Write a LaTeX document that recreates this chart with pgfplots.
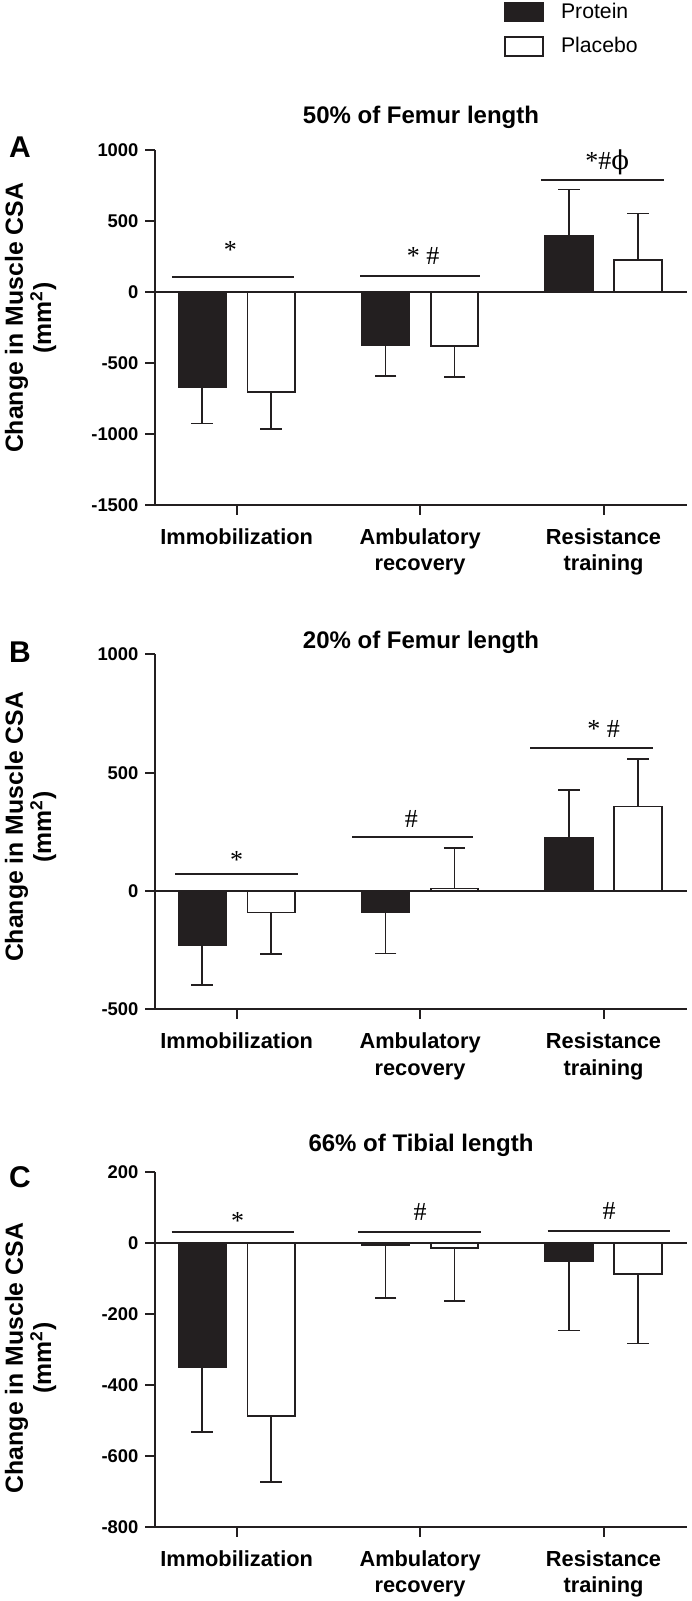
\documentclass[border=0pt]{standalone}
\usepackage{fontspec}
\setmainfont{Liberation Sans}
\newfontfamily\symfont{Liberation Serif}
\newfontfamily\phifont{DejaVu Serif}
\usepackage{pgfplots}
\pgfplotsset{compat=1.18}
\usepackage{pgfplotstable}
\definecolor{barblack}{RGB}{35,31,32}

% Panel A: 50% of femur length
\pgfplotstableread{
x y ep em
-0.188 -667 0 258
0.812 -373 0 219
1.812 397 326 0
}\Aprot
\pgfplotstableread{
x y ep em
0.188 -704 0 261
1.188 -378 0 221
2.188 223 329 0
}\Aplac
% Panel B: 20% of femur length
\pgfplotstableread{
x y ep em
-0.188 -229 0 168
0.812 -91 0 172
1.812 225 201 0
}\Bprot
\pgfplotstableread{
x y ep em
0.188 -91 0 176
1.188 11 172 0
2.188 357 201 0
}\Bplac
% Panel C: 66% of tibial length
\pgfplotstableread{
x y ep em
-0.188 -350 0 182
0.812 -5 0 150
1.812 -52 0 194
}\Cprot
\pgfplotstableread{
x y ep em
0.188 -488 0 185
1.188 -14 0 150
2.188 -87 0 196
}\Cplac

\tikzset{
  symb/.style={font=\symfont\fontsize{13}{15}\selectfont, anchor=base, inner sep=0pt},
  letter/.style={font=\bfseries\fontsize{15}{18}\selectfont},
}
\pgfplotsset{
  panel/.style={
    scale only axis, width=266pt, height=177.5pt,
    xmin=-0.445, xmax=2.455,
    axis x line*=bottom, axis y line*=left,
    axis line style={line width=1pt, color=barblack},
    xtick={0,1,2},
    xticklabels={Immobilization, Ambulatory\\recovery, Resistance\\training},
    xticklabel style={align=center, yshift=-3.5pt, font=\bfseries\fontsize{10.9}{13.3}\selectfont},
    yticklabel style={font=\bfseries\fontsize{9.2}{11}\selectfont},
    tick align=outside, major tick length=4.75pt,
    tick style={line width=1pt, color=barblack},
    ylabel={Change in Muscle CSA\\(mm\textsuperscript{2})},
    ylabel style={align=center, font=\bfseries\fontsize{12.4}{12.5}\selectfont, anchor=center},
    title style={font=\bfseries\fontsize{12}{14}\selectfont, anchor=center},
    clip=false,
  },
  barbase/.style={ybar, bar width=0.259, bar shift=0pt, line width=0.85pt, draw=barblack,
    error bars/y dir=both, error bars/y explicit,
    error bars/error bar style={line width=0.8pt, color=barblack},
    error bars/error mark options={rotate=90, mark size=5.4pt, line width=0.8pt, color=barblack}},
  protein/.style={barbase, fill=barblack,
    legend image code/.code={\draw[fill=barblack,draw=barblack,line width=0.85pt] (0pt,-4.75pt) rectangle (19pt,4.75pt);}},
  placebo/.style={barbase, fill=white,
    legend image code/.code={\draw[fill=white,draw=barblack,line width=0.85pt] (0pt,-4.75pt) rectangle (19pt,4.75pt);}},
  sig/.style={line width=1pt, color=barblack, forget plot},
  zeroline/.style={line width=1pt, color=barblack, forget plot},
}

\begin{document}
\begin{tikzpicture}
\useasboundingbox (0,0) rectangle (345.5pt,-800.5pt);

% ---------- Panel A ----------
\begin{axis}[panel, at={(77.5pt,-75pt)}, anchor=north west,
  ymin=-1500, ymax=1000,
  ytick={-1500,-1000,-500,0,500,1000},
  yticklabels={-1500,-1000,-500,0,500,1000},
  ylabel style={at={(-0.2338,0.527)}},
  title={50\% of Femur length},
  title style={at={(0.5,1.059)}},
  legend style={at={(0.656,1.427)}, anchor=north west, draw=none, fill=none,
    font=\fontsize{10.6}{12}\selectfont, row sep=4pt, column sep=6.5pt, inner sep=0pt,
    cells={anchor=west}},
]
\addplot[protein] table[x=x, y=y, y error plus=ep, y error minus=em] {\Aprot};
\addlegendentry{Protein}
\addplot[placebo] table[x=x, y=y, y error plus=ep, y error minus=em] {\Aplac};
\addlegendentry{Placebo}
\addplot[zeroline] coordinates {(-0.445,0) (2.455,0)};
\addplot[sig] coordinates {(-0.353,103) (0.313,103)};
\addplot[sig] coordinates {(0.675,113) (1.328,113)};
\addplot[sig] coordinates {(1.659,789) (2.328,789)};
\node[symb] at (axis cs:-0.034,235) {*};
\node[symb] at (axis cs:1.017,197) {* \#};
\node[symb] at (axis cs:2.02,864) {*\#{\phifont ϕ}};
\node[letter] at (rel axis cs:-0.2538,1.0085) {A};
\end{axis}

% ---------- Panel B ----------
\begin{axis}[panel, at={(77.5pt,-327.2pt)}, anchor=north west,
  ymin=-500, ymax=1000,
  ytick={-500,0,500,1000},
  yticklabels={-500,0,500,1000},
  ylabel style={at={(-0.2338,0.514)}},
  title={20\% of Femur length},
  title style={at={(0.5,1.001)}},
]
\addplot[protein] table[x=x, y=y, y error plus=ep, y error minus=em] {\Bprot};
\addplot[placebo] table[x=x, y=y, y error plus=ep, y error minus=em] {\Bplac};
\addplot[zeroline] coordinates {(-0.445,0) (2.455,0)};
\addplot[sig] coordinates {(-0.335,73) (0.335,73)};
\addplot[sig] coordinates {(0.63,230) (1.29,230)};
\addplot[sig] coordinates {(1.60,604) (2.27,604)};
\node[symb] at (axis cs:0,94) {*};
\node[symb] at (axis cs:0.952,269) {\#};
\node[symb] at (axis cs:2.0,651) {* \#};
\node[letter] at (rel axis cs:-0.2538,1.007) {B};
\end{axis}

% ---------- Panel C ----------
\begin{axis}[panel, at={(77.5pt,-586pt)}, anchor=north west,
  ymin=-800, ymax=200,
  ytick={-800,-600,-400,-200,0,200},
  yticklabels={-800,-600,-400,-200,0,200},
  ylabel style={at={(-0.2338,0.476)}},
  title={66\% of Tibial length},
  title style={at={(0.5,1.042)}},
]
\addplot[protein] table[x=x, y=y, y error plus=ep, y error minus=em] {\Cprot};
\addplot[placebo] table[x=x, y=y, y error plus=ep, y error minus=em] {\Cplac};
\addplot[zeroline] coordinates {(-0.445,0) (2.455,0)};
\addplot[sig] coordinates {(-0.355,30) (0.31,30)};
\addplot[sig] coordinates {(0.664,30) (1.331,30)};
\addplot[sig] coordinates {(1.695,35) (2.362,35)};
\node[symb] at (axis cs:0.005,37) {*};
\node[symb] at (axis cs:1.0,64) {\#};
\node[symb] at (axis cs:2.03,66) {\#};
\node[letter] at (rel axis cs:-0.2538,0.986) {C};
\end{axis}
\end{tikzpicture}
\end{document}
